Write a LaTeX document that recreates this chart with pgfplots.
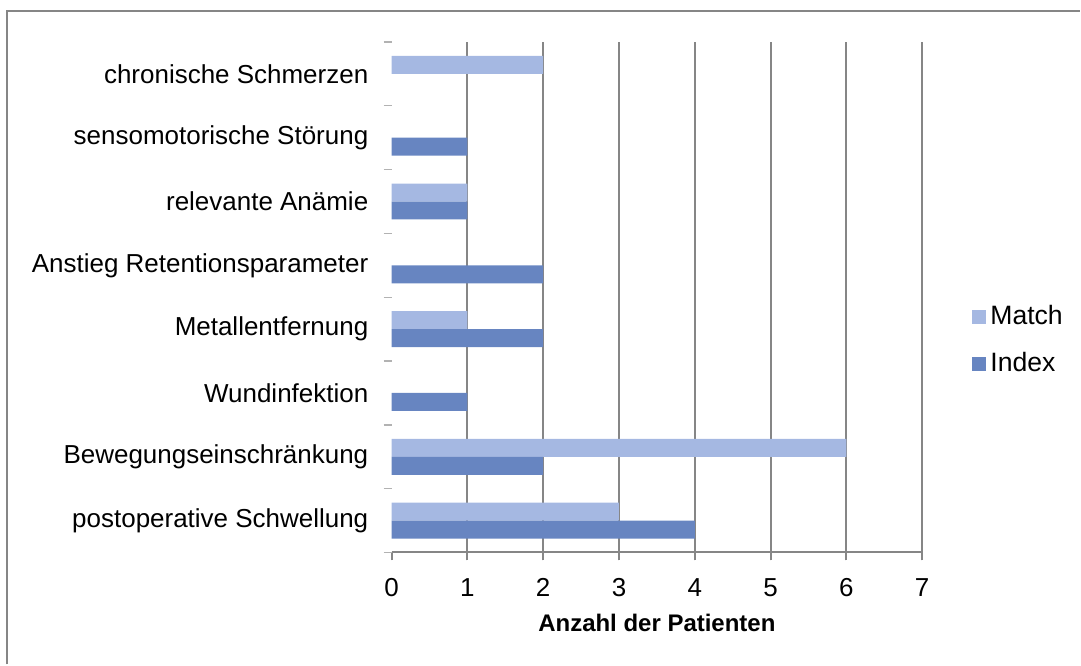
\documentclass[border=0pt]{standalone}
\usepackage{pgfplots}
\pgfplotsset{compat=1.18}
\usepackage{fontspec}
\setmainfont{Liberation Sans}
\definecolor{matchc}{RGB}{165,184,226}
\definecolor{indexc}{RGB}{103,133,193}
\definecolor{axgray}{RGB}{134,134,134}
\begin{document}
\fontsize{13pt}{15pt}\selectfont
\begin{tikzpicture}
\path (0,0) rectangle (540.5pt,332.5pt);
\draw[axgray, line width=1pt] (3.5pt,0) -- (3.5pt,327pt) -- (540.5pt,327pt);
\begin{axis}[
  at={(196pt,56pt)}, anchor=south west,
  scale only axis, width=265.5pt, height=255.5pt,
  xmin=0, xmax=7, ymin=-0.5, ymax=7.5,
  /pgf/number format/assume math mode=true,
  axis x line*=bottom, axis y line*=left,
  x axis line style={axgray, line width=1pt, -},
  y axis line style={draw=none},
  xbar, bar width=9pt,
  xtick={0,...,7},
  extra x ticks={1,...,7}, extra x tick labels={},
  extra x tick style={grid=major},
  major grid style={axgray, line width=1pt},
  ytick={0,...,7},
  yticklabels={postoperative Schwellung, Bewegungseinschränkung, Wundinfektion, Metallentfernung, Anstieg Retentionsparameter, relevante Anämie, sensomotorische Störung, chronische Schmerzen},
  minor ytick={-0.5,0.5,...,7.5},
  tick align=outside,
  major tick length=4pt, minor tick length=4pt,
  every major y tick/.append style={draw=none},
  xtick style={axgray, line width=1pt},
  ytick style={gray!60, line width=0.7pt},
  xtick pos=bottom, ytick pos=left,
  yticklabel style={inner sep=0pt, anchor=east, xshift=-7.5pt, font=\fontsize{13pt}{15pt}\selectfont},
  xticklabel style={yshift=-4.5pt, font=\fontsize{13pt}{15pt}\selectfont},
  xlabel={\textbf{Anzahl der Patienten}},
  xlabel style={at={(axis description cs:0.5,0)}, anchor=base, yshift=-39.5pt, font=\fontsize{12pt}{14pt}\selectfont},
  legend style={draw=none, fill=none, at={(rel axis cs:1.094,0.415)}, anchor=west, inner sep=0pt, row sep=8pt, font=\fontsize{13.3pt}{15pt}\selectfont},
  legend cell align=left,
  legend image code/.code={\fill[#1] (0pt,-3.5pt) rectangle (7pt,3.5pt);},
]
\addplot[fill=matchc, draw=none, bar shift=4.5pt] coordinates {(3,0) (6,1) (1,3) (1,5) (2,7)};
\addplot[fill=indexc, draw=none, bar shift=-4.5pt] coordinates {(4,0) (2,1) (1,2) (2,3) (2,4) (1,5) (1,6)};
\legend{Match, Index}
\end{axis}
\end{tikzpicture}
\end{document}
